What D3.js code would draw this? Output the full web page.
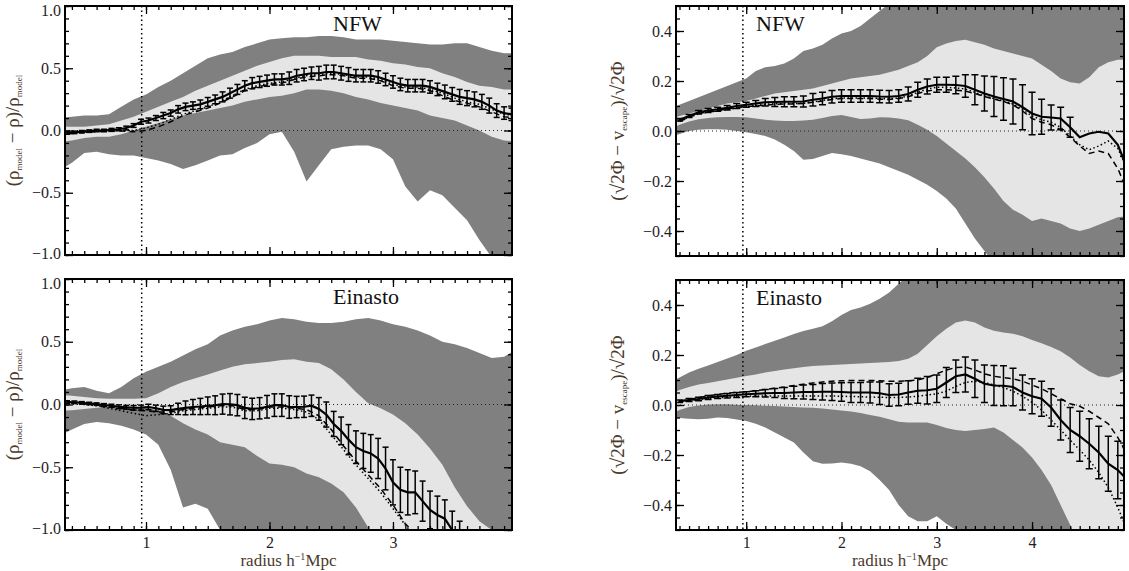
<!DOCTYPE html>
<html>
<head>
<meta charset="utf-8">
<script src="https://cdn.jsdelivr.net/npm/d3@7"></script>
<style>
  body { margin: 0; background: #fff; }
  text { font-family: "Liberation Serif", "DejaVu Serif", serif; }
</style>
</head>
<body>
<div class="chart"></div>
<script>
// ---------------- data ----------------
// radius bins
var leftBandX = d3.range(0.3, 4.001, 0.1);   // band / comparison-line grid, density panels
var rightBandX = d3.range(0.2, 5.001, 0.1);  // band / comparison-line grid, escape panels
var leftPtX = d3.range(0.36, 3.961, 0.06);   // points with error bars, density panels
var rightPtX = d3.range(0.3, 5.001, 0.1);    // points with error bars, escape panels

// tick labels
var leftYTicks = [-1, -0.5, 0, 0.5, 1];
var rightYTicks = [-0.4, -0.2, 0, 0.2, 0.4];
var leftXTicks = [1, 2, 3];
var rightXTicks = [1, 2, 3, 4];
var innerRadius = 0.965; // vertical dotted line

// top left : NFW, density
var tlOutHi = [0.10,0.11,0.12,0.12,0.13,0.19,0.25,0.29,0.35,0.40,0.46,0.52,0.58,0.61,0.63,0.67,0.70,0.73,0.74,0.75,0.75,0.76,0.76,0.75,0.73,0.73,0.73,0.72,0.71,0.70,0.69,0.69,0.70,0.70,0.67,0.64,0.62,0.62];
var tlInHi = [0.03,0.03,0.03,0.04,0.05,0.08,0.11,0.15,0.19,0.23,0.27,0.32,0.36,0.40,0.44,0.48,0.52,0.55,0.58,0.60,0.60,0.60,0.59,0.59,0.59,0.57,0.56,0.54,0.53,0.51,0.50,0.46,0.43,0.39,0.36,0.35,0.33,0.33];
var tlInLo = [-0.09,-0.08,-0.06,-0.05,-0.05,-0.03,0.00,0.03,0.06,0.09,0.12,0.14,0.16,0.18,0.20,0.23,0.25,0.27,0.28,0.30,0.33,0.33,0.32,0.30,0.27,0.25,0.22,0.20,0.18,0.16,0.12,0.10,0.08,0.04,0.00,-0.05,-0.08,-0.09];
var tlOutLo = [-0.32,-0.26,-0.18,-0.17,-0.19,-0.20,-0.20,-0.22,-0.24,-0.27,-0.31,-0.28,-0.24,-0.20,-0.19,-0.14,-0.10,-0.03,-0.01,-0.17,-0.41,-0.28,-0.15,-0.13,-0.12,-0.12,-0.15,-0.23,-0.45,-0.57,-0.48,-0.52,-0.62,-0.72,-0.88,-1.02,-1.08,-1.10];
var tlSolid = [-0.02,-0.015,-0.01,-0.005,0,0,0.005,0.01,0.02,0.04,0.07,0.08,0.10,0.12,0.14,0.17,0.19,0.20,0.21,0.23,0.25,0.27,0.30,0.33,0.36,0.38,0.39,0.40,0.41,0.41,0.42,0.44,0.45,0.46,0.46,0.47,0.47,0.46,0.45,0.44,0.44,0.44,0.43,0.41,0.39,0.37,0.36,0.36,0.36,0.35,0.33,0.31,0.29,0.27,0.26,0.25,0.23,0.20,0.16,0.14,0.13];
var tlErr = [0.01,0.01,0.01,0.01,0.01,0.01,0.012,0.012,0.015,0.015,0.02,0.02,0.02,0.025,0.025,0.03,0.03,0.03,0.035,0.035,0.035,0.04,0.04,0.04,0.04,0.045,0.045,0.045,0.045,0.045,0.05,0.05,0.05,0.05,0.055,0.055,0.055,0.055,0.055,0.05,0.05,0.05,0.05,0.05,0.05,0.05,0.05,0.05,0.05,0.05,0.05,0.055,0.055,0.06,0.06,0.06,0.06,0.06,0.055,0.05,0.05];
var tlDashed = [-0.03,-0.025,-0.015,-0.01,-0.005,-0.005,-0.01,0.0,0.03,0.07,0.12,0.15,0.18,0.22,0.27,0.32,0.35,0.37,0.38,0.41,0.43,0.44,0.45,0.44,0.42,0.42,0.40,0.36,0.34,0.34,0.32,0.28,0.24,0.22,0.19,0.15,0.11,0.10];
var tlDotted = [-0.02,-0.02,-0.01,-0.005,0.0,0.0,0.0,0.02,0.05,0.09,0.13,0.16,0.19,0.23,0.28,0.33,0.36,0.38,0.39,0.42,0.44,0.45,0.46,0.45,0.43,0.43,0.41,0.37,0.35,0.35,0.33,0.30,0.26,0.23,0.21,0.17,0.13,0.12];

// bottom left : Einasto, density
var blOutHi = [0.11,0.13,0.14,0.11,0.09,0.14,0.21,0.26,0.30,0.34,0.39,0.44,0.48,0.55,0.59,0.62,0.64,0.67,0.69,0.68,0.66,0.65,0.65,0.66,0.68,0.69,0.67,0.64,0.62,0.59,0.55,0.50,0.48,0.45,0.41,0.37,0.38,0.44];
var blInHi = [0.075,0.07,0.06,0.05,0.045,0.045,0.045,0.05,0.09,0.14,0.18,0.21,0.24,0.27,0.30,0.32,0.33,0.34,0.355,0.36,0.34,0.33,0.28,0.20,0.10,0.01,-0.03,-0.08,-0.15,-0.24,-0.35,-0.48,-0.66,-0.81,-0.93,-1.0,-1.1,-1.1];
var blInLo = [-0.05,-0.045,-0.035,-0.025,-0.02,-0.02,-0.02,-0.025,-0.045,-0.09,-0.15,-0.20,-0.24,-0.30,-0.32,-0.34,-0.41,-0.47,-0.48,-0.50,-0.55,-0.58,-0.63,-0.70,-0.82,-0.98,-1.1,-1.1,-1.1,-1.1,-1.1,-1.1,-1.1,-1.1,-1.1,-1.1,-1.1,-1.1];
var blOutLo = [-0.25,-0.20,-0.155,-0.14,-0.15,-0.17,-0.20,-0.24,-0.32,-0.52,-0.82,-0.79,-0.83,-1.0,-1.1,-1.1,-1.1,-1.1,-1.1,-1.1,-1.1,-1.1,-1.1,-1.1,-1.1,-1.1,-1.1,-1.1,-1.1,-1.1,-1.1,-1.1,-1.1,-1.1,-1.1,-1.1,-1.1,-1.1];
var blSolid = [0.02,0.018,0.013,0.008,0.003,-0.005,-0.01,-0.018,-0.022,-0.026,-0.025,-0.02,-0.03,-0.043,-0.045,-0.035,-0.027,-0.02,-0.016,-0.01,-0.006,0.003,0.002,-0.005,-0.027,-0.035,-0.03,-0.018,-0.005,-0.005,-0.02,-0.02,-0.018,-0.01,-0.035,-0.08,-0.155,-0.21,-0.28,-0.34,-0.37,-0.39,-0.43,-0.51,-0.62,-0.68,-0.70,-0.70,-0.77,-0.84,-0.88,-0.91,-1.0,-1.08,-1.15,-1.2,-1.25,-1.3,-1.35,-1.4,-1.45];
var blErr = [0.01,0.01,0.01,0.01,0.01,0.012,0.012,0.015,0.015,0.018,0.02,0.022,0.025,0.03,0.035,0.045,0.055,0.06,0.065,0.07,0.075,0.08,0.085,0.085,0.085,0.085,0.085,0.09,0.09,0.09,0.09,0.085,0.085,0.085,0.09,0.1,0.1,0.11,0.12,0.13,0.14,0.15,0.16,0.17,0.18,0.18,0.18,0.17,0.16,0.15,0.15,0.15,0.15,0.15,0.15,0.15,0.15,0.15,0.15,0.15,0.15];
var blDashed = [0.02,0.015,0.01,0.0,-0.01,-0.03,-0.045,-0.05,-0.06,-0.06,-0.04,-0.03,-0.02,-0.01,-0.01,-0.04,-0.04,-0.02,-0.02,-0.03,-0.04,-0.09,-0.20,-0.33,-0.45,-0.56,-0.67,-0.80,-0.95,-1.05,-1.1,-1.2,-1.2,-1.2,-1.2,-1.2,-1.2,-1.2];
var blDotted = [0.015,0.01,0.0,-0.01,-0.03,-0.05,-0.07,-0.09,-0.08,-0.07,-0.05,-0.04,-0.03,-0.02,-0.02,-0.05,-0.05,-0.03,-0.03,-0.04,-0.06,-0.12,-0.24,-0.36,-0.48,-0.59,-0.70,-0.83,-0.96,-1.08,-1.15,-1.2,-1.2,-1.2,-1.2,-1.2,-1.2,-1.2];

// top right : NFW, escape velocity
var trOutHi = [0.09,0.105,0.12,0.135,0.15,0.165,0.18,0.195,0.21,0.24,0.255,0.26,0.27,0.29,0.32,0.33,0.345,0.37,0.39,0.40,0.42,0.45,0.48,0.51,0.6,0.6,0.6,0.6,0.6,0.6,0.6,0.6,0.6,0.6,0.6,0.6,0.6,0.6,0.6,0.6,0.6,0.6,0.6,0.6,0.6,0.6,0.6,0.6,0.6];
var trInHi = [0.05,0.06,0.07,0.08,0.09,0.10,0.11,0.115,0.12,0.13,0.14,0.15,0.155,0.16,0.165,0.17,0.18,0.19,0.20,0.21,0.215,0.22,0.225,0.235,0.245,0.26,0.275,0.30,0.335,0.35,0.36,0.365,0.355,0.345,0.33,0.32,0.31,0.30,0.29,0.265,0.24,0.21,0.195,0.19,0.215,0.255,0.275,0.285,0.285];
var trInLo = [0.01,0.025,0.038,0.047,0.052,0.055,0.056,0.056,0.055,0.05,0.045,0.042,0.04,0.04,0.042,0.045,0.052,0.06,0.064,0.056,0.048,0.05,0.055,0.054,0.05,0.043,0.025,0.005,-0.02,-0.05,-0.08,-0.11,-0.145,-0.185,-0.23,-0.28,-0.315,-0.335,-0.36,-0.35,-0.36,-0.37,-0.39,-0.40,-0.39,-0.375,-0.36,-0.345,-0.34];
var trOutLo = [-0.025,-0.012,0.0,0.005,0.007,0.007,0.005,0.0,-0.005,-0.012,-0.02,-0.034,-0.055,-0.08,-0.115,-0.112,-0.10,-0.088,-0.093,-0.10,-0.11,-0.12,-0.13,-0.145,-0.16,-0.175,-0.195,-0.215,-0.24,-0.27,-0.31,-0.37,-0.43,-0.48,-0.53,-0.6,-0.6,-0.6,-0.6,-0.6,-0.6,-0.6,-0.6,-0.6,-0.6,-0.6,-0.6,-0.6,-0.6];
var trSolid = [0.045,0.06,0.075,0.082,0.087,0.093,0.10,0.105,0.11,0.115,0.116,0.117,0.117,0.118,0.125,0.13,0.137,0.14,0.14,0.14,0.14,0.138,0.137,0.14,0.148,0.165,0.178,0.185,0.185,0.184,0.18,0.165,0.15,0.138,0.128,0.118,0.095,0.07,0.057,0.054,0.05,0.015,-0.025,-0.01,-0.003,-0.01,-0.055,-0.15];
var trErr = [0.005,0.006,0.007,0.008,0.008,0.009,0.01,0.01,0.012,0.015,0.018,0.02,0.02,0.022,0.025,0.025,0.025,0.025,0.025,0.025,0.025,0.025,0.025,0.025,0.028,0.03,0.03,0.03,0.03,0.035,0.045,0.06,0.07,0.08,0.085,0.09,0.09,0.085,0.07,0.05,0.045,0.04,null,null,null,null,null,null];
var trDashed = [0.03,0.038,0.055,0.07,0.077,0.082,0.088,0.094,0.098,0.10,0.104,0.106,0.108,0.108,0.11,0.115,0.12,0.126,0.13,0.13,0.13,0.13,0.127,0.126,0.13,0.137,0.15,0.16,0.165,0.165,0.163,0.16,0.15,0.138,0.128,0.118,0.105,0.08,0.05,0.035,0.025,0.005,-0.025,-0.06,-0.09,-0.08,-0.09,-0.15,-0.24];
var trDotted = [0.035,0.04,0.055,0.068,0.075,0.08,0.086,0.092,0.097,0.102,0.107,0.109,0.11,0.11,0.111,0.117,0.122,0.129,0.132,0.132,0.132,0.132,0.13,0.129,0.132,0.14,0.155,0.168,0.175,0.175,0.172,0.168,0.155,0.14,0.13,0.12,0.108,0.085,0.06,0.045,0.035,0.015,-0.02,-0.055,-0.075,-0.06,-0.04,-0.07,-0.15];

// bottom right : Einasto, escape velocity
var brOutHi = [0.09,0.11,0.13,0.145,0.158,0.172,0.186,0.20,0.217,0.23,0.244,0.257,0.27,0.284,0.296,0.305,0.315,0.335,0.36,0.38,0.39,0.405,0.425,0.45,0.485,0.52,0.6,0.6,0.6,0.6,0.6,0.6,0.6,0.6,0.6,0.6,0.6,0.6,0.6,0.6,0.6,0.6,0.6,0.6,0.6,0.6,0.6,0.6,0.6];
var brInHi = [0.045,0.06,0.072,0.082,0.088,0.095,0.102,0.109,0.116,0.122,0.13,0.136,0.142,0.147,0.152,0.156,0.158,0.16,0.162,0.164,0.166,0.168,0.17,0.172,0.176,0.185,0.205,0.24,0.275,0.305,0.33,0.338,0.33,0.31,0.297,0.29,0.285,0.275,0.26,0.247,0.232,0.215,0.19,0.16,0.135,0.115,0.11,0.122,0.14];
var brInLo = [-0.035,-0.02,-0.008,-0.002,0.002,0.003,0.003,0.001,0.0,-0.001,-0.003,-0.004,-0.006,-0.008,-0.01,-0.011,-0.014,-0.018,-0.022,-0.026,-0.032,-0.04,-0.047,-0.057,-0.067,-0.07,-0.07,-0.07,-0.08,-0.092,-0.10,-0.104,-0.10,-0.096,-0.09,-0.11,-0.14,-0.17,-0.21,-0.26,-0.32,-0.40,-0.48,-0.56,-0.6,-0.6,-0.6,-0.6,-0.6];
var brOutLo = [-0.055,-0.052,-0.055,-0.057,-0.055,-0.05,-0.052,-0.058,-0.064,-0.075,-0.09,-0.11,-0.13,-0.15,-0.19,-0.225,-0.235,-0.234,-0.23,-0.235,-0.245,-0.265,-0.30,-0.34,-0.40,-0.445,-0.465,-0.465,-0.445,-0.475,-0.5,-0.55,-0.6,-0.6,-0.6,-0.6,-0.6,-0.6,-0.6,-0.6,-0.6,-0.6,-0.6,-0.6,-0.6,-0.6,-0.6,-0.6,-0.6];
var brSolid = [0.015,0.02,0.024,0.03,0.034,0.037,0.04,0.043,0.045,0.047,0.048,0.048,0.05,0.052,0.052,0.053,0.053,0.052,0.05,0.05,0.05,0.047,0.04,0.042,0.05,0.057,0.059,0.065,0.09,0.115,0.122,0.105,0.085,0.078,0.077,0.072,0.05,0.035,0.025,-0.01,-0.06,-0.10,-0.125,-0.155,-0.19,-0.235,-0.26,-0.30];
var brErr = [0.005,0.006,0.007,0.008,0.008,0.009,0.01,0.01,0.012,0.015,0.018,0.022,0.025,0.028,0.03,0.033,0.035,0.037,0.04,0.04,0.042,0.045,0.045,0.045,0.047,0.05,0.055,0.055,0.06,0.065,0.07,0.075,0.075,0.08,0.08,0.075,0.07,0.07,0.07,0.075,0.08,0.09,0.10,0.10,0.105,0.11,0.115,0.12];
var brDashed = [0.01,0.015,0.022,0.03,0.036,0.042,0.047,0.05,0.053,0.057,0.062,0.067,0.072,0.078,0.083,0.088,0.092,0.095,0.097,0.098,0.098,0.098,0.097,0.095,0.095,0.097,0.10,0.11,0.125,0.14,0.15,0.152,0.14,0.125,0.115,0.11,0.105,0.095,0.08,0.065,0.045,0.025,0.005,-0.005,-0.025,-0.05,-0.075,-0.13,-0.2];
var brDotted = [0.008,0.012,0.017,0.022,0.026,0.029,0.031,0.033,0.035,0.036,0.036,0.036,0.036,0.036,0.036,0.036,0.036,0.036,0.035,0.034,0.033,0.032,0.031,0.03,0.03,0.032,0.035,0.04,0.045,0.055,0.075,0.09,0.095,0.09,0.08,0.07,0.055,0.035,0.01,-0.02,-0.06,-0.10,-0.14,-0.18,-0.22,-0.27,-0.33,-0.41,-0.5];

// ---------------- layout ----------------
var svgWidth = 1129;
var svgHeight = 571;
var darkGrey = "#808080";
var lightGrey = "#e5e5e5";
var inkColor = "#1e1e28";
var titleColor = "#4a3a2c";

var svg = d3.select(".chart")
    .append("svg")
    .attr("width", svgWidth)
    .attr("height", svgHeight);

var panels = [
    { id: "tl", label: "NFW", left: 65, top: 6, width: 447, height: 249,
      xDomain: [0.344, 3.964], yDomain: [-1, 1], yTicks: leftYTicks, yMinor: 0.1, xTicks: leftXTicks,
      bandX: leftBandX, outHi: tlOutHi, inHi: tlInHi, inLo: tlInLo, outLo: tlOutLo,
      ptX: leftPtX, solid: tlSolid, err: tlErr, dashed: tlDashed, dotted: tlDotted,
      showX: false, kind: "rho", cap: 3 },
    { id: "bl", label: "Einasto", left: 65, top: 279, width: 447, height: 251,
      xDomain: [0.344, 3.964], yDomain: [-1, 1], yTicks: leftYTicks, yMinor: 0.1, xTicks: leftXTicks,
      bandX: leftBandX, outHi: blOutHi, inHi: blInHi, inLo: blInLo, outLo: blOutLo,
      ptX: leftPtX, solid: blSolid, err: blErr, dashed: blDashed, dotted: blDotted,
      showX: true, kind: "rho", cap: 3 },
    { id: "tr", label: "NFW", left: 676, top: 6, width: 448, height: 250,
      xDomain: [0.263, 4.965], yDomain: [-0.5, 0.5], yTicks: rightYTicks, yMinor: 0.05, xTicks: rightXTicks,
      bandX: rightBandX, outHi: trOutHi, inHi: trInHi, inLo: trInLo, outLo: trOutLo,
      ptX: rightPtX, solid: trSolid, err: trErr, dashed: trDashed, dotted: trDotted,
      showX: false, kind: "phi", cap: 3.5 },
    { id: "br", label: "Einasto", left: 676, top: 280, width: 448, height: 250,
      xDomain: [0.263, 4.965], yDomain: [-0.5, 0.5], yTicks: rightYTicks, yMinor: 0.05, xTicks: rightXTicks,
      bandX: rightBandX, outHi: brOutHi, inHi: brInHi, inLo: brInLo, outLo: brOutLo,
      ptX: rightPtX, solid: brSolid, err: brErr, dashed: brDashed, dotted: brDotted,
      showX: true, kind: "phi", cap: 3.5 }
];

panels.forEach(drawPanel);

function drawPanel(p) {
    var g = svg.append("g")
        .attr("transform", `translate(${p.left}, ${p.top})`);

    // scales
    var x = d3.scaleLinear().domain(p.xDomain).range([0, p.width]);
    var y = d3.scaleLinear().domain(p.yDomain).range([p.height, 0]);

    g.append("clipPath")
        .attr("id", "clip-" + p.id)
        .append("rect")
        .attr("width", p.width)
        .attr("height", p.height);

    var plot = g.append("g").attr("clip-path", `url(#clip-${p.id})`);

    // bands: outer (dark) then inner (light)
    var bands = p.bandX.map((r, i) => ({ r: r, oh: p.outHi[i], ih: p.inHi[i], il: p.inLo[i], ol: p.outLo[i] }));

    plot.append("path")
        .datum(bands)
        .attr("fill", darkGrey)
        .attr("d", d3.area().x(d => x(d.r)).y0(d => y(d.ol)).y1(d => y(d.oh)));

    plot.append("path")
        .datum(bands)
        .attr("fill", lightGrey)
        .attr("d", d3.area().x(d => x(d.r)).y0(d => y(d.il)).y1(d => y(d.ih)));

    // zero line
    plot.append("line")
        .attr("x1", 0).attr("x2", p.width)
        .attr("y1", y(0)).attr("y2", y(0))
        .attr("stroke", "#222")
        .attr("stroke-width", 1)
        .attr("stroke-dasharray", "1,3");

    // comparison curves
    var cmpLine = d3.line().x(d => x(d[0])).y(d => y(d[1]));

    plot.append("path")
        .datum(p.bandX.map((r, i) => [r, p.dotted[i]]))
        .attr("fill", "none")
        .attr("stroke", "#000")
        .attr("stroke-width", 1.5)
        .attr("stroke-dasharray", "1.5,2.5")
        .attr("d", cmpLine);

    plot.append("path")
        .datum(p.bandX.map((r, i) => [r, p.dashed[i]]))
        .attr("fill", "none")
        .attr("stroke", "#000")
        .attr("stroke-width", 1.5)
        .attr("stroke-dasharray", "6,4")
        .attr("d", cmpLine);

    // main curve with error bars
    var pts = p.ptX.map((r, i) => ({ r: r, v: p.solid[i], e: p.err[i] }));

    plot.append("path")
        .datum(pts)
        .attr("fill", "none")
        .attr("stroke", "#000")
        .attr("stroke-width", 2.2)
        .attr("d", d3.line().x(d => x(d.r)).y(d => y(d.v)));

    var bars = plot.selectAll(".ebar")
        .data(pts.filter(d => d.e != null))
        .enter()
        .append("g")
        .attr("class", "ebar")
        .attr("stroke", "#000")
        .attr("stroke-width", 1.5);

    bars.append("line")
        .attr("x1", d => x(d.r)).attr("x2", d => x(d.r))
        .attr("y1", d => y(d.v - d.e)).attr("y2", d => y(d.v + d.e));
    bars.append("line")
        .attr("x1", d => x(d.r) - p.cap).attr("x2", d => x(d.r) + p.cap)
        .attr("y1", d => y(d.v + d.e)).attr("y2", d => y(d.v + d.e));
    bars.append("line")
        .attr("x1", d => x(d.r) - p.cap).attr("x2", d => x(d.r) + p.cap)
        .attr("y1", d => y(d.v - d.e)).attr("y2", d => y(d.v - d.e));

    // vertical dotted line at the inner radius
    g.append("line")
        .attr("x1", x(innerRadius)).attr("x2", x(innerRadius))
        .attr("y1", 0).attr("y2", p.height)
        .attr("stroke", "#000")
        .attr("stroke-width", 1.5)
        .attr("stroke-dasharray", "1.5,3");

    // axes: inward ticks on all four sides
    var yMinor = d3.range(p.yDomain[0], p.yDomain[1] + 1e-9, p.yMinor);
    var xMinor = d3.range(Math.ceil(p.xDomain[0] * 10) / 10, p.xDomain[1], 0.1);
    var fmt = d3.format(".1f");

    function axisStyle(sel) {
        sel.select(".domain").remove();
        sel.selectAll("line").attr("stroke", "#000").attr("stroke-width", 1.3);
        sel.selectAll("text")
            .attr("fill", inkColor)
            .attr("font-size", 16)
            .attr("font-family", "'Liberation Serif', serif");
    }

    g.append("g").call(d3.axisLeft(y).tickValues(yMinor).tickSize(-4).tickFormat("")).call(axisStyle);
    g.append("g").attr("transform", `translate(${p.width},0)`)
        .call(d3.axisRight(y).tickValues(yMinor).tickSize(-4).tickFormat("")).call(axisStyle);
    g.append("g").attr("transform", `translate(${p.width},0)`)
        .call(d3.axisRight(y).tickValues(p.yTicks).tickSize(-8).tickFormat("")).call(axisStyle);

    var yLab = g.append("g")
        .call(d3.axisLeft(y).tickValues(p.yTicks).tickSize(-8).tickPadding(4).tickFormat(fmt))
        .call(axisStyle);
    // extreme labels pulled inside the frame as in the original
    yLab.selectAll("text")
        .attr("dy", d => d === 1 ? "0.62em" : (d === -1 ? "0.2em" : "0.32em"));

    g.append("g").call(d3.axisTop(x).tickValues(xMinor).tickSize(-4).tickFormat("")).call(axisStyle);
    g.append("g").call(d3.axisTop(x).tickValues(p.xTicks).tickSize(-8).tickFormat("")).call(axisStyle);
    g.append("g").attr("transform", `translate(0,${p.height})`)
        .call(d3.axisBottom(x).tickValues(xMinor).tickSize(-4).tickFormat("")).call(axisStyle);
    g.append("g").attr("transform", `translate(0,${p.height})`)
        .call(d3.axisBottom(x).tickValues(p.xTicks).tickSize(-8).tickPadding(7)
            .tickFormat(p.showX ? d3.format("d") : ""))
        .call(axisStyle);

    // frame
    g.append("rect")
        .attr("width", p.width)
        .attr("height", p.height)
        .attr("fill", "none")
        .attr("stroke", "#000")
        .attr("stroke-width", 2);

    // model name
    g.append("text")
        .attr("x", p.kind === "rho" ? 268 : 80)
        .attr("y", 25)
        .attr("font-size", 22)
        .attr("fill", "#111")
        .text(p.label);

    // y title
    var yt = g.append("text")
        .attr("transform", `translate(${p.kind === "rho" ? -46 : -52}, ${p.height / 2}) rotate(-90)`)
        .attr("text-anchor", "middle")
        .attr("fill", titleColor)
        .attr("font-size", 19);
    if (p.kind === "rho") {
        yt.append("tspan").text("(ρ");
        yt.append("tspan").attr("font-size", 9).attr("dy", 3).text("model");
        yt.append("tspan").attr("dy", -3).text(" − ρ)/ρ");
        yt.append("tspan").attr("font-size", 9).attr("dy", 3).text("model");
    } else {
        yt.append("tspan").text("(√2Φ − v");
        yt.append("tspan").attr("font-size", 9).attr("dy", 3).text("escape");
        yt.append("tspan").attr("dy", -3).text(")/√2Φ");
    }

    // x title
    if (p.showX) {
        var xt = g.append("text")
            .attr("x", p.width / 2)
            .attr("y", p.height + 36)
            .attr("text-anchor", "middle")
            .attr("fill", titleColor)
            .attr("font-size", 17);
        xt.append("tspan").text("radius h");
        xt.append("tspan").attr("font-size", 10).attr("dy", -6).text("−1");
        xt.append("tspan").attr("dy", 6).text("Mpc");
    }
}
</script>
</body>
</html>
